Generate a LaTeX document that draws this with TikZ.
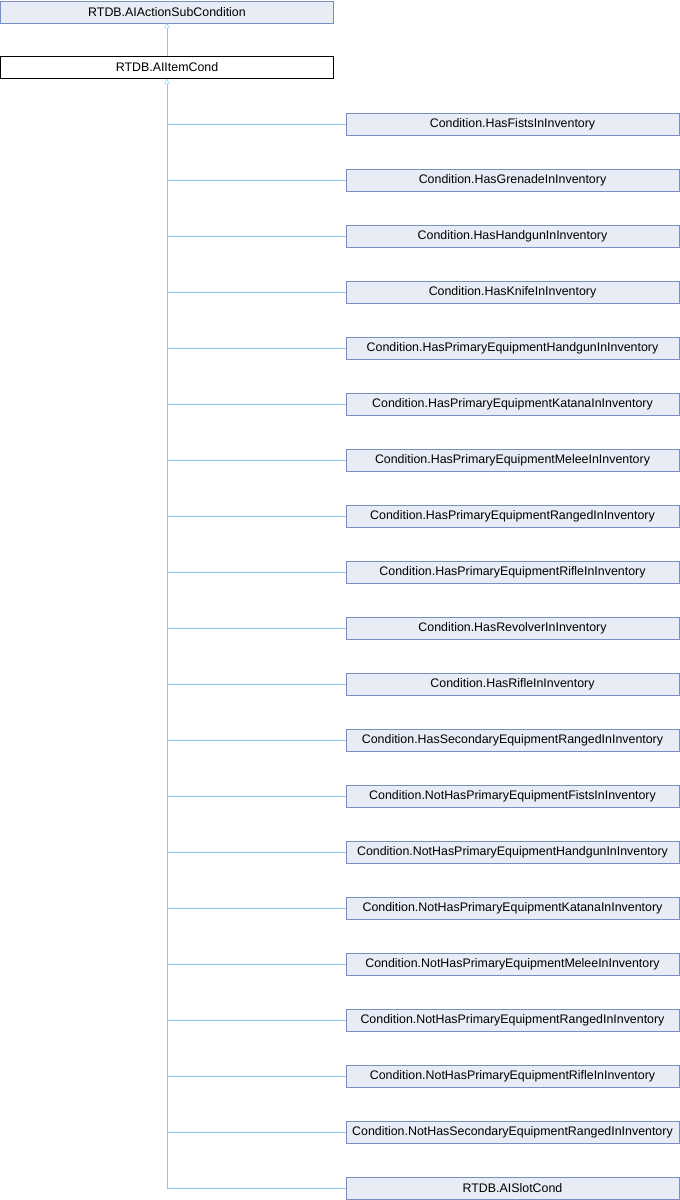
\documentclass[tikz,border=0pt]{standalone}
\usepackage{fontspec}
\setmainfont{Liberation Sans}
\usetikzlibrary{arrows.meta}

\definecolor{boxfill}{HTML}{E8ECF5}
\definecolor{boxline}{HTML}{7B8EC4}
\definecolor{edgeline}{HTML}{8CC6EA}

\tikzset{
    cls/.style={draw=boxline, fill=boxfill, minimum height=22pt, inner sep=0pt, font=\fontsize{12.4}{14}\selectfont},
    child/.style={cls, minimum width=333pt},
    inh/.style={draw=edgeline, {Triangle[open, length=5pt, width=5pt]}-},
    branch/.style={draw=edgeline}
}

\begin{document}
\begin{tikzpicture}[x=1pt, y=-1pt]
    \useasboundingbox (0,0) rectangle (680,1200);
    %Base
    \node[cls, minimum width=333pt] at (167,12) (base) {RTDB.AIActionSubCondition};
    %ItemCond
    \node[cls, fill=white, draw=black, minimum width=333pt] at (167,67.5) (item) {RTDB.AIItemCond};
    %Children
    \node[child] at (512.5,124) (fists) {Condition.HasFistsInInventory};
    \node[child] at (512.5,180) (grenade) {Condition.HasGrenadeInInventory};
    \node[child] at (512.5,236) (handgun) {Condition.HasHandgunInInventory};
    \node[child] at (512.5,292) (knife) {Condition.HasKnifeInInventory};
    \node[child] at (512.5,348) (pHandgun) {Condition.HasPrimaryEquipmentHandgunInInventory};
    \node[child] at (512.5,404) (pKatana) {Condition.HasPrimaryEquipmentKatanaInInventory};
    \node[child] at (512.5,460) (pMelee) {Condition.HasPrimaryEquipmentMeleeInInventory};
    \node[child] at (512.5,516) (pRanged) {Condition.HasPrimaryEquipmentRangedInInventory};
    \node[child] at (512.5,572) (pRifle) {Condition.HasPrimaryEquipmentRifleInInventory};
    \node[child] at (512.5,628) (revolver) {Condition.HasRevolverInInventory};
    \node[child] at (512.5,684) (rifle) {Condition.HasRifleInInventory};
    \node[child] at (512.5,740) (sRanged) {Condition.HasSecondaryEquipmentRangedInInventory};
    \node[child] at (512.5,796) (nFists) {Condition.NotHasPrimaryEquipmentFistsInInventory};
    \node[child] at (512.5,852) (nHandgun) {Condition.NotHasPrimaryEquipmentHandgunInInventory};
    \node[child] at (512.5,908) (nKatana) {Condition.NotHasPrimaryEquipmentKatanaInInventory};
    \node[child] at (512.5,964) (nMelee) {Condition.NotHasPrimaryEquipmentMeleeInInventory};
    \node[child] at (512.5,1020) (nRanged) {Condition.NotHasPrimaryEquipmentRangedInInventory};
    \node[child] at (512.5,1076) (nRifle) {Condition.NotHasPrimaryEquipmentRifleInInventory};
    \node[child] at (512.5,1132) (nsRanged) {Condition.NotHasSecondaryEquipmentRangedInInventory};
    \node[child] at (512.5,1188) (slot) {RTDB.AISlotCond};
    %SlotCond - folded corner
    \fill[boxline] (slot.south east) -- ([yshift=-6pt]slot.south east) -- ([xshift=-6pt]slot.south east) -- cycle;

    %ItemCond - Base
    \draw[inh] (base) -- (item);
    %SlotCond - ItemCond (trunk)
    \draw[inh] (item) |- (slot);
    %Children - trunk
    \foreach \c in {fists,grenade,handgun,knife,pHandgun,pKatana,pMelee,pRanged,pRifle,revolver,rifle,sRanged,nFists,nHandgun,nKatana,nMelee,nRanged,nRifle,nsRanged}
        \draw[branch] (\c.west) -- (\c.west -| item.south);
\end{tikzpicture}
\end{document}
